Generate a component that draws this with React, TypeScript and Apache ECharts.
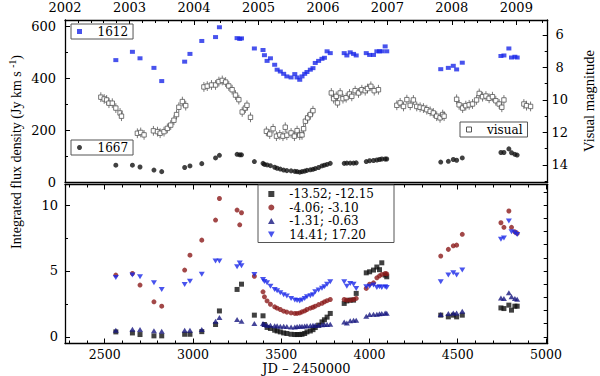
import React, { useEffect, useRef } from 'react';
import * as echarts from 'echarts';

// ---------- data (JD - 2450000) ----------
const EPOCHS = [
  2563, 2657, 2700, 2779, 2823, 2953, 2983, 3050, 3128, 3150,
  3250, 3265, 3275, 3348, 3397, 3405, 3420, 3439, 3463, 3477,
  3495, 3514, 3532, 3556, 3577, 3590, 3605, 3618, 3633, 3646,
  3665, 3680, 3693, 3712, 3731, 3745, 3760, 3778, 3857, 3872,
  3891, 3910, 3925, 3982, 4001, 4023, 4042, 4057, 4070, 4089,
  4098, 4404, 4447, 4475, 4494, 4526, 4745, 4762, 4790, 4805,
  4824, 4837,
];

const FLUX_1612 = [
  471, 503, 478, 441, 390, 465, 495, 545, 560, 598,
  556, 553, 555, 516, 510, 490, 468, 478, 453, 434,
  427, 418, 408, 404, 417, 404, 395, 408, 418, 425,
  434, 440, 460, 468, 476, 480, 505, 498, 498, 489,
  501, 495, 489, 498, 491, 491, 505, 505, 505, 524,
  505, 436, 441, 449, 435, 461, 487, 489, 516, 481,
  484, 481,
];

const FLUX_1667 = [
  65, 65, 58, 46, 40, 56, 62, 71, 93, 103,
  107, 105, 105, 79, 72, 68, 66, 63, 57, 53,
  50, 46, 44, 43, 41, 40, 38, 40, 42, 45,
  47, 49, 52, 56, 62, 65, 68, 72, 72, 73,
  73, 73, 74, 79, 82, 83, 85, 87, 89, 89,
  89, 77, 80, 87, 84, 93, 114, 114, 128, 113,
  107, 104,
];

const VEL_A = [ // -13.52; -12.15
  0.38, 0.3, 0.18, 0.08, 0.08, 0.2, 0.2, 0.4, 0.94, 1.97,
  3.6, null, 4.0, 1.65, 1.6, 0.94, 0.72, 0.64, 0.51, 0.45,
  0.38, 0.3, 0.26, 0.2, 0.18, 0.18, 0.18, 0.2, 0.26, 0.38,
  0.45, 0.55, 0.71, 0.89, 1.14, 1.3, 1.5, 1.78, 2.54, 2.73,
  2.79, 2.79, 3.3, 4.86, 4.94, 5.07, 5.3, 5.1, 5.62, 4.69,
  4.56, 1.65, 1.52, 1.65, 1.52, 1.65, 2.2, 2.15, 2.41, 2.03,
  2.33, 2.33,
];

const VEL_B = [ // -4.06; -3.10
  4.69, 4.81, 3.93, 2.66, 2.33, 5.07, 6.2, 7.34, 8.86, 10.5,
  9.62, 8.5, 9.42, 4.6, 3.42, 3.04, 2.73, 2.48, 2.28, 2.18,
  2.08, 1.95, 1.88, 1.82, 1.78, 1.78, 1.82, 1.9, 1.97, 2.08,
  2.18, 2.25, 2.33, 2.45, 2.55, 2.66, 2.75, 2.84, 2.84, 2.79,
  2.79, 2.84, 2.92, 3.68, 4.0, 4.1, 4.48, 4.63, 4.74, 4.81,
  4.78, 6.13, 6.64, 6.91, 6.96, 7.78, 8.66, 8.31, 9.55, 8.31,
  7.97, 7.85,
];

const VEL_C = [ // -1.31; -0.63
  0.51, 0.58, 0.56, 0.46, 0.43, 0.51, 0.51, 0.56, 1.19, 1.47,
  1.32, null, 1.19, 1.02, 1.02, 0.95, 0.89, 0.89, 0.84, 0.84,
  0.81, 0.81, 0.79, 0.76, 0.76, 0.78, 0.81, 0.81, 0.82, 0.84,
  0.86, 0.89, 0.89, 0.89, 0.92, 0.94, 0.95, 0.96, 1.14, 1.06,
  1.22, 1.27, 1.27, 1.57, 1.7, 1.72, 1.72, 1.75, 1.78, 1.82,
  1.8, 1.7, 1.78, 1.82, 1.82, 1.95, 2.96, 2.92, 3.34, 3.04,
  2.92, 2.86,
];

const VEL_D = [ // 14.41; 17.20
  4.51, 4.69, 4.56, 4.1, 3.6, 3.98, 4.23, 4.76, 5.75, 5.75,
  5.32, 5.6, 5.4, 4.74, 4.36, 4.2, 4.1, 3.85, 3.6, 3.5,
  3.34, 3.2, 3.1, 2.92, 2.79, 2.76, 2.73, 2.8, 2.92, 3.04,
  3.12, 3.2, 3.42, 3.55, 3.7, 3.8, 4.0, 4.18, 4.18, 3.85,
  4.05, 4.0, 3.68, 3.8, 3.85, 3.93, 3.75, 3.8, 3.75, 3.8,
  3.75, 4.18, 4.69, 4.86, 4.69, 5.07, 7.4, 7.5, 8.79, 7.97,
  7.9, 7.77,
];

const VIS_JD = [
  2478, 2497, 2511, 2524, 2543, 2563, 2587, 2595,
  2685, 2704, 2723, 2776, 2799, 2814, 2836, 2855, 2874, 2892, 2907, 2920, 2940, 2959,
  3062, 3081, 3105, 3128, 3147, 3166, 3185, 3203, 3222, 3241, 3260, 3279, 3297, 3306, 3326,
  3416, 3435, 3454, 3473, 3492, 3510, 3523, 3532, 3556, 3575, 3590, 3605, 3618, 3627, 3637, 3650, 3665, 3680,
  3784, 3797, 3812, 3819, 3834, 3850, 3868, 3887, 3900, 3919, 3938, 3957, 3976, 3989, 4008, 4027, 4051,
  4155, 4174, 4193, 4212, 4231, 4249, 4268, 4287, 4306, 4325, 4344, 4362, 4381, 4400, 4415, 4423,
  4494, 4508, 4528, 4546, 4565, 4584, 4607, 4622, 4641, 4660, 4678, 4697, 4716, 4735, 4750, 4762,
  4875, 4890, 4913,
];
const VIS_MAG = [
  9.83, 9.94, 10.0, 10.2, 10.2, 10.5, 10.8, 11.0,
  12.05, 12.0, 12.15, 11.9, 11.95, 12.05, 11.95, 11.75, 11.55, 11.25, 10.9, 10.45, 10.1, 10.35,
  9.2, 9.15, 9.08, 9.08, 8.87, 8.8, 8.9, 9.14, 9.37, 9.7, 9.98, 10.74, 10.5, 10.33, 11.07,
  11.93, 12.1, 11.77, 12.23, 12.15, 12.23, 11.68, 12.17, 12.03, 12.23, 11.89, 12.17, 12.15, 11.77, 11.31, 11.1, 10.9, 10.66,
  9.57, 9.92, 9.78, 10.18, 9.57, 9.92, 9.86, 9.63, 9.78, 9.43, 9.57, 9.37, 9.43, 9.3, 9.16, 9.43, 9.37,
  10.33, 10.18, 10.4, 9.98, 10.33, 10.0, 10.4, 10.45, 10.5, 10.6, 10.7, 10.8, 11.0, 11.1, 10.9, 11.0,
  9.96, 10.3, 10.5, 10.35, 10.3, 10.25, 10.0, 9.6, 9.8, 9.76, 9.9, 9.8, 10.05, 10.25, 10.45, 10.0,
  10.25, 10.35, 10.4,
];
const VIS_ERR_MAG = 0.3;
const VIS_ERR_DAYS = 10;

// ---------- ticks ----------
const YEAR_LABELS = [2002, 2003, 2004, 2005, 2006, 2007, 2008, 2009];
const YEAR_JD = [2275.5, 2640.5, 3005.5, 3371.5, 3736.5, 4101.5, 4466.5, 4832.5];
const JD_LABELS = [2500, 3000, 3500, 4000, 4500, 5000];
const FLUX_TOP_LABELS = [0, 200, 400, 600];
const FLUX_TOP_MINOR = [100, 300, 500];
const MAG_LABELS = [6, 8, 10, 12, 14];
const MAG_MINOR = [7, 9, 11, 13, 15];
const FLUX_BOT_LABELS = [0, 5, 10];
const FLUX_BOT_MINOR = [2.5, 7.5];
const FLUX_BOT_RIGHT = [0, 1, 2, 3, 4, 5, 6, 7, 8, 9, 10, 11];

const SERIES_NAMES = ['-13.52; -12.15', '-4.06; -3.10', '-1.31; -0.63', '14.41; 17.20'];

const X_MIN = 2275, X_MAX = 5010;
const FONT_H = 'DejaVu Serif';
const FONT_V = 'Liberation Serif';
const BLUE = '#1a28e8';
const DARKRED = '#8b1a1a';
const NAVY = '#17177f';
const BLACK = '#111';
const GREY = '#555';
const SQ = 'path://M0,0H10V10H0Z';
const TRI = 'path://M5,0L10,9L0,9Z';
const ITRI = 'path://M0,0L10,0L5,9Z';

function yearMinor(): number[] {
  const out: number[] = [];
  for (let i = 0; i < YEAR_JD.length - 1; i++) {
    const step = (YEAR_JD[i + 1] - YEAR_JD[i]) / 5;
    for (let k = 1; k < 5; k++) out.push(YEAR_JD[i] + k * step);
  }
  const last = YEAR_JD[YEAR_JD.length - 1];
  for (let k = 1; last + k * 73 < X_MAX; k++) out.push(last + k * 73);
  return out;
}
function jdMinor(): number[] {
  const out: number[] = [];
  for (let v = 2300; v < X_MAX; v += 100) if (v % 500 !== 0) out.push(v);
  return out;
}

const pairs = (ys: (number | null)[]) =>
  EPOCHS.map((x, i) => [x, ys[i]]).filter((p) => p[1] !== null && p[1] !== undefined);

const LINE = { show: true, onZero: false, lineStyle: { color: '#000', width: 1.3 } };
const NOLINE = { show: false, onZero: false };
const tick = (vals: number[], len: number) => ({
  show: true, inside: true, length: len, customValues: vals,
  lineStyle: { color: '#000', width: 1 },
});

function xAxis(grid: number, position: string, extra: any) {
  return {
    type: 'value', gridIndex: grid, position, min: X_MIN, max: X_MAX,
    splitLine: { show: false }, axisLine: NOLINE, axisTick: { show: false },
    axisLabel: { show: false }, nameMoveOverlap: false, ...extra,
  };
}
function yAxis(grid: number, position: string, min: number, max: number, extra: any) {
  return {
    type: 'value', gridIndex: grid, position, min, max,
    splitLine: { show: false }, axisLine: NOLINE, axisTick: { show: false },
    axisLabel: { show: false }, nameMoveOverlap: false, ...extra,
  };
}

const labelStyle = { fontFamily: FONT_H, fontSize: 13, color: '#000', formatter: (v: number) => String(v) };

function buildOption(): any {
  const legendCommon = {
    orient: 'vertical', backgroundColor: '#fff', borderColor: GREY, borderWidth: 1,
    borderRadius: 0, itemWidth: 26, itemHeight: 5, itemGap: 2, selectedMode: false,
    symbolKeepAspect: true,
    textStyle: { fontFamily: FONT_H, fontSize: 12, color: '#000', lineHeight: 13 },
  };
  return {
    animation: false,
    backgroundColor: '#fff',
    grid: [
      { left: 65, right: 52.3, top: 20, height: 162, containLabel: false, outerBoundsMode: 'none' },
      { left: 65, right: 52.3, top: 184.5, height: 159, containLabel: false, outerBoundsMode: 'none' },
    ],
    xAxis: [
      xAxis(0, 'top', {
        axisLine: LINE,
        axisTick: tick(YEAR_JD, 5),
        axisLabel: {
          show: true, customValues: YEAR_JD, margin: 6, ...labelStyle,
          formatter: (v: number) => {
            let best = 0;
            YEAR_JD.forEach((y, i) => { if (Math.abs(y - v) < Math.abs(YEAR_JD[best] - v)) best = i; });
            return String(YEAR_LABELS[best]);
          },
        },
      }),
      xAxis(0, 'top', { axisTick: tick(yearMinor(), 3) }),
      xAxis(0, 'bottom', { axisLine: LINE }),
      xAxis(1, 'bottom', {
        axisLine: LINE,
        axisTick: tick(JD_LABELS, 5),
        axisLabel: { show: true, customValues: JD_LABELS, margin: 5, ...labelStyle, fontSize: 12.5, lineHeight: 11 },
        name: 'JD \u2013 2450000', nameLocation: 'middle', nameGap: 19,
        nameTextStyle: { fontFamily: FONT_H, fontSize: 13, color: '#000', verticalAlign: 'top', lineHeight: 12 },
      }),
      xAxis(1, 'bottom', { axisTick: tick(jdMinor(), 3) }),
      xAxis(1, 'top', { axisLine: LINE, axisTick: tick(JD_LABELS, 5) }),
      xAxis(1, 'top', { axisTick: tick(jdMinor(), 3) }),
    ],
    yAxis: [
      yAxis(0, 'left', 0, 626, {
        axisLine: LINE, axisTick: tick(FLUX_TOP_LABELS, 5),
        axisLabel: { show: true, customValues: FLUX_TOP_LABELS, margin: 9, ...labelStyle },
      }),
      yAxis(0, 'left', 0, 626, { axisTick: tick(FLUX_TOP_MINOR, 3) }),
      yAxis(0, 'right', 5.08, 15.05, {
        inverse: true, axisLine: LINE, axisTick: tick(MAG_LABELS, 5),
        axisLabel: { show: true, customValues: MAG_LABELS, margin: 12, align: 'center', ...labelStyle },
        name: 'Visual magnitude', nameLocation: 'middle', nameGap: 34, nameRotate: 90,
        nameTextStyle: { fontFamily: FONT_V, fontSize: 14.5, color: '#000' },
      }),
      yAxis(0, 'right', 5.08, 15.05, { inverse: true, axisTick: tick(MAG_MINOR, 3) }),
      yAxis(1, 'left', -0.5, 11.56, {
        axisLine: LINE, axisTick: tick(FLUX_BOT_LABELS, 5),
        axisLabel: { show: true, customValues: FLUX_BOT_LABELS, margin: 7, ...labelStyle },
      }),
      yAxis(1, 'left', -0.5, 11.56, { axisTick: tick(FLUX_BOT_MINOR, 3) }),
      yAxis(1, 'right', -0.5, 11.56, { axisLine: LINE, axisTick: tick(FLUX_BOT_RIGHT, 4) }),
    ],
    legend: [
      { ...legendCommon, left: 71, top: 24, padding: [1, 5, 1, 6], data: [{ name: '1612', icon: SQ }] },
      { ...legendCommon, left: 71, top: 140, padding: [1, 5, 1, 6], data: [{ name: '1667', icon: 'circle' }] },
      {
        ...legendCommon, left: 460, top: 122, padding: [1, 5, 1, 6],
        data: [{ name: 'visual', icon: SQ, itemStyle: { color: '#fff', borderColor: GREY, borderWidth: 1 } }],
      },
      {
        ...legendCommon, left: 258, top: 185, padding: [3, 20, 2, 10], itemGap: 1.5, itemHeight: 6,
        textStyle: { fontFamily: FONT_H, fontSize: 12, color: '#000', lineHeight: 12 },
        data: [
          { name: SERIES_NAMES[0], icon: SQ },
          { name: SERIES_NAMES[1], icon: 'circle' },
          { name: SERIES_NAMES[2], icon: TRI },
          { name: SERIES_NAMES[3], icon: ITRI },
        ],
      },
    ],
    graphic: [
      {
        type: 'text', x: 16, y: 152, rotation: Math.PI / 2, silent: true,
        style: {
          text: '{n|Integrated flux density (Jy km s }{s|-1}{n|)}',
          align: 'center', verticalAlign: 'middle', fill: '#000',
          rich: {
            n: { fontFamily: FONT_V, fontSize: 14, fill: '#000', lineHeight: 16 },
            s: { fontFamily: FONT_V, fontSize: 9.5, fill: '#000', lineHeight: 10, verticalAlign: 'top' },
          },
        },
      },
    ],
    series: [
      {
        name: '1612', type: 'scatter', xAxisIndex: 0, yAxisIndex: 0, silent: true,
        symbol: 'rect', symbolSize: [5, 4], itemStyle: { color: BLUE },
        data: pairs(FLUX_1612),
      },
      {
        name: '1667', type: 'scatter', xAxisIndex: 0, yAxisIndex: 0, silent: true,
        symbol: 'circle', symbolSize: 5, itemStyle: { color: BLACK },
        data: pairs(FLUX_1667),
      },
      {
        name: 'visual', type: 'custom', xAxisIndex: 0, yAxisIndex: 2, silent: true,
        itemStyle: { color: '#fff', borderColor: GREY },
        data: VIS_JD.map((x, i) => [x, VIS_MAG[i]]),
        renderItem: (params: any, api: any) => {
          const jd = api.value(0), mag = api.value(1);
          const c = api.coord([jd, mag]);
          const t = api.coord([jd, mag - VIS_ERR_MAG]);
          const b = api.coord([jd, mag + VIS_ERR_MAG]);
          const l = api.coord([jd - VIS_ERR_DAYS, mag]);
          const r = api.coord([jd + VIS_ERR_DAYS, mag]);
          const st = { stroke: GREY, lineWidth: 0.8 };
          return {
            type: 'group',
            children: [
              { type: 'line', shape: { x1: c[0], y1: t[1], x2: c[0], y2: b[1] }, style: st },
              { type: 'line', shape: { x1: l[0], y1: c[1], x2: r[0], y2: c[1] }, style: st },
              { type: 'rect', shape: { x: c[0] - 2.2, y: c[1] - 2.2, width: 4.4, height: 4.4 },
                style: { fill: '#fff', stroke: GREY, lineWidth: 0.8 } },
            ],
          };
        },
      },
      {
        name: SERIES_NAMES[0], type: 'scatter', xAxisIndex: 3, yAxisIndex: 4, silent: true,
        symbol: 'rect', symbolSize: 5, itemStyle: { color: BLACK }, data: pairs(VEL_A),
      },
      {
        name: SERIES_NAMES[1], type: 'scatter', xAxisIndex: 3, yAxisIndex: 4, silent: true,
        symbol: 'circle', symbolSize: 5, itemStyle: { color: DARKRED }, data: pairs(VEL_B),
      },
      {
        name: SERIES_NAMES[2], type: 'scatter', xAxisIndex: 3, yAxisIndex: 4, silent: true,
        symbol: 'triangle', symbolSize: [6, 5], itemStyle: { color: NAVY }, data: pairs(VEL_C),
      },
      {
        name: SERIES_NAMES[3], type: 'scatter', xAxisIndex: 3, yAxisIndex: 4, silent: true,
        symbol: ITRI, symbolSize: [6, 5], itemStyle: { color: BLUE }, data: pairs(VEL_D),
      },
    ],
  };
}

export default function App() {
  const ref = useRef<HTMLDivElement>(null);
  useEffect(() => {
    if (!ref.current) return;
    const chart = echarts.init(ref.current, null, { renderer: 'svg' });
    chart.setOption(buildOption());
    return () => chart.dispose();
  }, []);
  return (
    <div
      ref={ref}
      style={{ position: 'fixed', left: 0, top: 0, width: 600, height: 376, background: '#fff' }}
    />
  );
}
